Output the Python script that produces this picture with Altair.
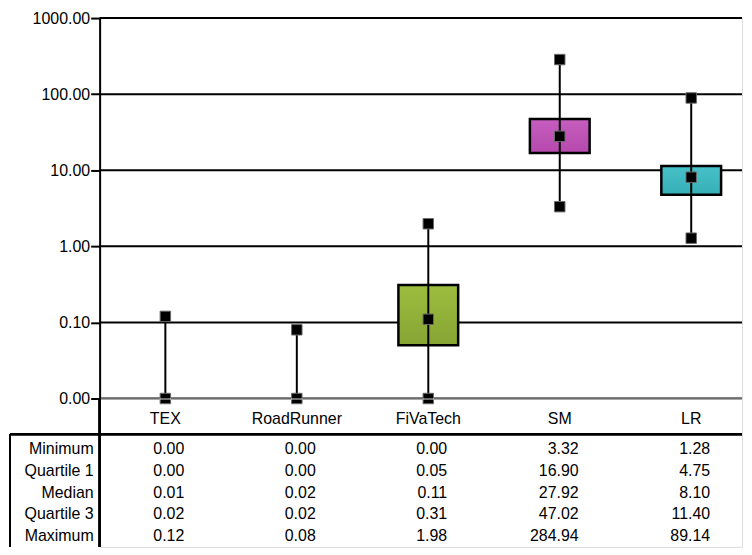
import altair as alt
import pandas as pd

CATEGORIES = ["TEX", "RoadRunner", "FiVaTech", "SM", "LR"]
MINIMUM = [0.00, 0.00, 0.00, 3.32, 1.28]
QUARTILE1 = [0.00, 0.00, 0.05, 16.90, 4.75]
MEDIAN = [0.01, 0.02, 0.11, 27.92, 8.10]
QUARTILE3 = [0.02, 0.02, 0.31, 47.02, 11.40]
MAXIMUM = [0.12, 0.08, 1.98, 284.94, 89.14]
BOX_SHOWN = [False, False, True, True, True]
BOX_TOP = ["#ffffff", "#ffffff", "#9dbd3f", "#c65ebe", "#47c2c8"]
BOX_BOTTOM = ["#ffffff", "#ffffff", "#86a433", "#b649ae", "#36aeb6"]
STAT_NAMES = ["Minimum", "Quartile 1", "Median", "Quartile 3", "Maximum"]
Y_TICKS = [0.01, 0.1, 1, 10, 100, 1000]
Y_TICK_LABELS = ["0.00", "0.10", "1.00", "10.00", "100.00", "1000.00"]
Y_FLOOR = 0.01

FONT = "Liberation Sans"
FS = 16
BAND = 132
W = 645
H = 382
TH = 149

xscale = alt.Scale(domain=[0, W / BAND], nice=False, zero=False, padding=0)
yscale = alt.Scale(type="log", domain=[Y_FLOOR, 1000], nice=False, padding=0)

df = pd.DataFrame({
    "cat": CATEGORIES,
    "pos": [i + 0.5 for i in range(len(CATEGORIES))],
    "min": [max(v, Y_FLOOR) for v in MINIMUM],
    "q1": [max(v, Y_FLOOR) for v in QUARTILE1],
    "med": [max(v, Y_FLOOR) for v in MEDIAN],
    "q3": [max(v, Y_FLOOR) for v in QUARTILE3],
    "max": [max(v, Y_FLOOR) for v in MAXIMUM],
    "box": BOX_SHOWN,
})

label_expr = "{" + ",".join(f"'{t}':'{l}'" for t, l in zip(Y_TICKS, Y_TICK_LABELS)) + "}"
label_expr = "(" + label_expr + ")[''+datum.value]"

base = alt.Chart(df)

grid = alt.Chart(pd.DataFrame({"v": Y_TICKS})).mark_rule(color="black", strokeWidth=2).encode(
    y=alt.Y("v:Q", scale=yscale, axis=alt.Axis(
        values=Y_TICKS, labelExpr=label_expr, title=None, grid=False,
        domain=True, domainColor="black", domainWidth=2,
        ticks=True, tickColor="black", tickWidth=2, tickSize=9,
        labelPadding=1, labelFont=FONT, labelFontSize=FS, labelColor="black")),
    x=alt.value(0), x2=alt.value(W),
)

whisker = base.mark_rule(color="black", strokeWidth=2).encode(
    x=alt.X("pos:Q", scale=xscale, axis=None),
    y=alt.Y("min:Q", scale=yscale),
    y2="max:Q",
)

boxes = []
for i, c in enumerate(CATEGORIES):
    if not BOX_SHOWN[i]:
        continue
    boxes.append(
        base.transform_filter(alt.datum.cat == c).mark_bar(
            size=60, orient="vertical", stroke="black", strokeWidth=2.5,
            color=alt.Gradient(gradient="linear", x1=0, x2=0, y1=0, y2=1,
                               stops=[alt.GradientStop(color=BOX_TOP[i], offset=0),
                                      alt.GradientStop(color=BOX_BOTTOM[i], offset=1)]),
        ).encode(
            x=alt.X("pos:Q", scale=xscale, axis=None),
            y=alt.Y("q1:Q", scale=yscale),
            y2="q3:Q",
        )
    )

whisker_top = base.transform_filter(alt.datum.box).mark_rule(color="black", strokeWidth=2).encode(
    x=alt.X("pos:Q", scale=xscale, axis=None),
    y=alt.Y("q1:Q", scale=yscale),
    y2="q3:Q",
)

pts = base.transform_fold(["min", "max", "med"], as_=["stat", "val"]).transform_filter(
    "datum.stat != 'med' || datum.box"
).mark_square(size=110, color="black", opacity=1, stroke="#6a6a6a", strokeWidth=1).encode(
    x=alt.X("pos:Q", scale=xscale, axis=None),
    y=alt.Y("val:Q", scale=yscale),
)

top = alt.layer(grid, whisker, *boxes, whisker_top, pts).properties(width=W, height=H)

# table
rows = []
for i, c in enumerate(CATEGORIES):
    for s, arr in zip(STAT_NAMES, [MINIMUM, QUARTILE1, MEDIAN, QUARTILE3, MAXIMUM]):
        rows.append({"cat": c, "pos": i + 0.5, "stat": s, "txt": f"{arr[i]:.2f}"})
tdf = pd.DataFrame(rows)
yrow = alt.Y("stat:N", sort=STAT_NAMES,
             scale=alt.Scale(type="point", range=[51, 138], padding=0), axis=None)

vals = alt.Chart(tdf).mark_text(align="right", baseline="middle", dx=19, font=FONT, fontSize=FS, color="black").encode(
    x=alt.X("pos:Q", scale=xscale, axis=None), y=yrow, text="txt:N")
rowlab = alt.Chart(pd.DataFrame({"stat": STAT_NAMES})).mark_text(
    align="right", baseline="middle", font=FONT, fontSize=FS, color="black").encode(
    x=alt.value(-6), y=yrow, text="stat:N")
header = alt.Chart(df).mark_text(baseline="middle", font=FONT, fontSize=FS, color="black").encode(
    x=alt.X("pos:Q", scale=xscale, axis=None), y=alt.value(21), text="cat:N")
vline = alt.Chart(df).mark_rule(color="black", strokeWidth=2).encode(
    x=alt.value(0), y=alt.value(0), y2=alt.value(TH))
hline = alt.Chart(df).mark_rule(color="black", strokeWidth=2).encode(
    x=alt.value(-90), x2=alt.value(W), y=alt.value(36))
lline = alt.Chart(df).mark_rule(color="black", strokeWidth=2).encode(
    x=alt.value(-90), y=alt.value(36), y2=alt.value(TH))

table = alt.layer(vline, hline, lline, header, rowlab, vals).properties(width=W, height=TH)

chart = alt.vconcat(top, table, spacing=0, bounds="flush").properties(padding=0).configure_view(
    stroke=None).configure(background="white")

chart.save("out.html", embed_options={"renderer": "svg", "actions": False})
